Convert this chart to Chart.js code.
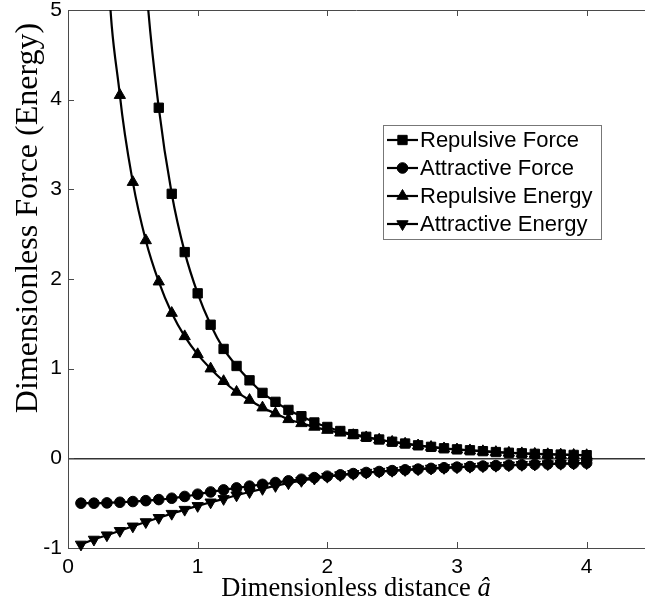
<!DOCTYPE html>
<html>
<head>
<meta charset="utf-8">
<script src="https://cdn.jsdelivr.net/npm/chart.js@4.4.1/dist/chart.umd.min.js"></script>
<style>
  html, body { margin: 0; padding: 0; background: #fff; overflow: hidden; }
  #wrap { width: 645px; height: 604px; position: relative; }
</style>
</head>
<body>
<div id="wrap"><canvas id="chart"></canvas></div>
<script>
// Dimensionless separation â
const distance = [0.1, 0.2, 0.3, 0.4, 0.5, 0.6, 0.7, 0.8, 0.9, 1.0,
                  1.1, 1.2, 1.3, 1.4, 1.5, 1.6, 1.7, 1.8, 1.9, 2.0,
                  2.1, 2.2, 2.3, 2.4, 2.5, 2.6, 2.7, 2.8, 2.9, 3.0,
                  3.1, 3.2, 3.3, 3.4, 3.5, 3.6, 3.7, 3.8, 3.9, 4.0];

const repulsiveForce = [180, 48, 22, 12.5, 8.0, 5.35, 3.91, 2.95, 2.30, 1.84,
                        1.49, 1.22, 1.03, 0.87, 0.73, 0.63, 0.54, 0.47, 0.40, 0.35,
                        0.305, 0.27, 0.24, 0.21, 0.185, 0.165, 0.145, 0.128, 0.112, 0.100,
                        0.090, 0.080, 0.070, 0.062, 0.056, 0.050, 0.046, 0.042, 0.038, 0.035];

const attractiveForce = [-0.50, -0.50, -0.497, -0.49, -0.482, -0.472, -0.46, -0.445, -0.425, -0.40,
                         -0.375, -0.352, -0.33, -0.31, -0.29, -0.27, -0.251, -0.233, -0.215, -0.199,
                         -0.184, -0.170, -0.158, -0.147, -0.137, -0.128, -0.120, -0.112, -0.105, -0.098,
                         -0.092, -0.086, -0.081, -0.076, -0.071, -0.067, -0.063, -0.059, -0.056, -0.052];

const repulsiveEnergy = [30, 11, 5.75, 4.05, 3.08, 2.43, 1.97, 1.62, 1.36, 1.16,
                         1.00, 0.86, 0.74, 0.65, 0.565, 0.50, 0.435, 0.39, 0.35, 0.315,
                         0.285, 0.258, 0.233, 0.207, 0.183, 0.162, 0.143, 0.126, 0.110, 0.098,
                         0.088, 0.078, 0.069, 0.061, 0.055, 0.049, 0.045, 0.041, 0.037, 0.034];

const attractiveEnergy = [-0.96, -0.905, -0.857, -0.808, -0.758, -0.71, -0.663, -0.617, -0.572, -0.53,
                          -0.49, -0.452, -0.412, -0.375, -0.34, -0.307, -0.277, -0.25, -0.225, -0.204,
                          -0.187, -0.172, -0.159, -0.148, -0.138, -0.129, -0.121, -0.113, -0.106, -0.099,
                          -0.093, -0.087, -0.082, -0.077, -0.072, -0.068, -0.064, -0.060, -0.057, -0.053];

const seriesNames = ['Repulsive Force', 'Attractive Force', 'Repulsive Energy', 'Attractive Energy'];
const xTickValues = [0, 1, 2, 3, 4];
const yTickValues = [-1, 0, 1, 2, 3, 4, 5];

const AXIS_COLOR = '#4a4a4a';
const SANS = '"Liberation Sans", Arial, sans-serif';
const SERIF = '"Liberation Serif", "Times New Roman", serif';

function pairs(values) {
  return distance.map((d, i) => ({ x: d, y: values[i] }));
}

function series(label, values, style, radius, rotation) {
  return {
    label,
    data: pairs(values),
    borderColor: '#000',
    backgroundColor: '#000',
    borderWidth: 2.2,
    pointStyle: style,
    pointRadius: radius,
    pointRotation: rotation,
    pointBorderWidth: 1,
    pointBackgroundColor: '#000',
    pointBorderColor: '#000',
    cubicInterpolationMode: 'monotone',
    clip: { left: 10, right: 10, top: 0, bottom: 10 }
  };
}

function noScalePadding(scale) {
  scale.paddingLeft = 0;
  scale.paddingRight = 0;
  scale.paddingTop = 0;
  scale.paddingBottom = 0;
}

// Frame: top border plus inward tick marks on every side
const framePlugin = {
  id: 'frame',
  beforeDatasetsDraw(chart) {
    const { ctx, chartArea: a, scales: { x, y } } = chart;
    const len = 6;
    ctx.save();
    ctx.strokeStyle = AXIS_COLOR;
    ctx.lineWidth = 1;
    ctx.beginPath();
    ctx.moveTo(a.left, a.top + 0.5);
    ctx.lineTo(a.right, a.top + 0.5);
    xTickValues.forEach(v => {
      const px = Math.round(x.getPixelForValue(v)) + 0.5;
      ctx.moveTo(px, a.bottom);
      ctx.lineTo(px, a.bottom - len);
      ctx.moveTo(px, a.top);
      ctx.lineTo(px, a.top + len);
    });
    yTickValues.forEach(v => {
      const py = Math.round(y.getPixelForValue(v)) + 0.5;
      ctx.moveTo(a.left, py);
      ctx.lineTo(a.left + len, py);
    });
    ctx.stroke();
    ctx.restore();
  }
};

// Axis titles
const titlePlugin = {
  id: 'axisTitles',
  afterDraw(chart) {
    const { ctx } = chart;
    const o = chart.options.plugins.axisTitles;
    ctx.save();
    ctx.fillStyle = '#000';
    ctx.textBaseline = 'alphabetic';
    // x title
    const main = 'Dimensionless distance ';
    ctx.font = `${o.xSize}px ${SERIF}`;
    const w1 = ctx.measureText(main).width;
    ctx.font = `italic ${o.xSize}px ${SERIF}`;
    const w2 = ctx.measureText('â').width;
    const sx = o.xCenter - (w1 + w2) / 2;
    ctx.font = `${o.xSize}px ${SERIF}`;
    ctx.textAlign = 'left';
    ctx.fillText(main, sx, o.xBaseline);
    ctx.font = `italic ${o.xSize}px ${SERIF}`;
    ctx.fillText('â', sx + w1, o.xBaseline);
    // y title
    ctx.translate(o.yBaseline, o.yCenter);
    ctx.rotate(-Math.PI / 2);
    ctx.font = `${o.ySize}px ${SERIF}`;
    ctx.textAlign = 'center';
    ctx.fillText('Dimensionless Force (Energy)', 0, 0);
    ctx.restore();
  }
};

// Boxed legend inside the plot
const legendPlugin = {
  id: 'boxLegend',
  afterDraw(chart) {
    const { ctx } = chart;
    const o = chart.options.plugins.boxLegend;
    const sets = chart.data.datasets;
    const h = o.rowHeight * sets.length + o.pad * 2;
    ctx.save();
    ctx.fillStyle = '#fff';
    ctx.fillRect(o.left, o.top, o.width, h);
    ctx.strokeStyle = '#777';
    ctx.lineWidth = 1;
    ctx.strokeRect(o.left + 0.5, o.top + 0.5, o.width, h);
    ctx.font = `${o.fontSize}px ${SANS}`;
    ctx.textBaseline = 'middle';
    ctx.textAlign = 'left';
    sets.forEach((ds, i) => {
      const cy = o.top + o.pad + o.rowHeight * (i + 0.5);
      const x0 = o.left + o.lineStart;
      const x1 = o.left + o.lineEnd;
      ctx.strokeStyle = '#000';
      ctx.lineWidth = 2.2;
      ctx.beginPath();
      ctx.moveTo(x0, cy);
      ctx.lineTo(x1, cy);
      ctx.stroke();
      ctx.fillStyle = '#000';
      ctx.lineWidth = 1;
      Chart.helpers.drawPoint(ctx, {
        pointStyle: ds.pointStyle,
        radius: ds.pointRadius,
        rotation: ds.pointRotation,
        borderWidth: 1
      }, (x0 + x1) / 2, cy);
      ctx.fillStyle = '#000';
      ctx.fillText(ds.label, o.left + o.textStart, cy + 1);
    });
    ctx.restore();
  }
};

new Chart(document.getElementById('chart'), {
  type: 'line',
  data: {
    datasets: [
      series(seriesNames[0], repulsiveForce, 'rect', 6.6, 0),
      series(seriesNames[1], attractiveForce, 'circle', 5.3, 0),
      series(seriesNames[2], repulsiveEnergy, 'triangle', 6.5, 0),
      series(seriesNames[3], attractiveEnergy, 'triangle', 6.5, 180)
    ]
  },
  options: {
    responsive: true,
    maintainAspectRatio: false,
    animation: false,
    events: [],
    layout: { autoPadding: false, padding: { top: 10, right: 0, left: 0, bottom: 0 } },
    scales: {
      x: {
        type: 'linear',
        min: 0,
        max: 4.45,
        afterFit(scale) { scale.height = 56; noScalePadding(scale); },
        afterBuildTicks(scale) { scale.ticks = xTickValues.map(v => ({ value: v })); },
        border: { display: true, color: AXIS_COLOR, width: 1 },
        grid: { display: false, drawTicks: false },
        ticks: {
          color: '#000',
          padding: 7,
          font: { family: SANS, size: 21 },
          maxRotation: 0
        }
      },
      y: {
        type: 'linear',
        min: -1,
        max: 5,
        afterFit(scale) { scale.width = 68; noScalePadding(scale); },
        afterBuildTicks(scale) { scale.ticks = yTickValues.map(v => ({ value: v })); },
        border: { display: true, color: AXIS_COLOR, width: 1 },
        grid: {
          drawTicks: false,
          lineWidth: 1.5,
          color: c => (c.tick && c.tick.value === 0 ? '#333' : 'rgba(0,0,0,0)')
        },
        ticks: {
          color: '#000',
          padding: 6,
          font: { family: SANS, size: 21 }
        }
      }
    },
    plugins: {
      legend: { display: false },
      tooltip: { enabled: false },
      axisTitles: { xCenter: 356, xBaseline: 596, xSize: 26.5, yCenter: 218, yBaseline: 37, ySize: 32 },
      boxLegend: { left: 383, top: 125, width: 218, rowHeight: 28, pad: 1, fontSize: 22,
                   lineStart: 4, lineEnd: 35, textStart: 37 }
    }
  },
  plugins: [framePlugin, titlePlugin, legendPlugin]
});
</script>
</body>
</html>
